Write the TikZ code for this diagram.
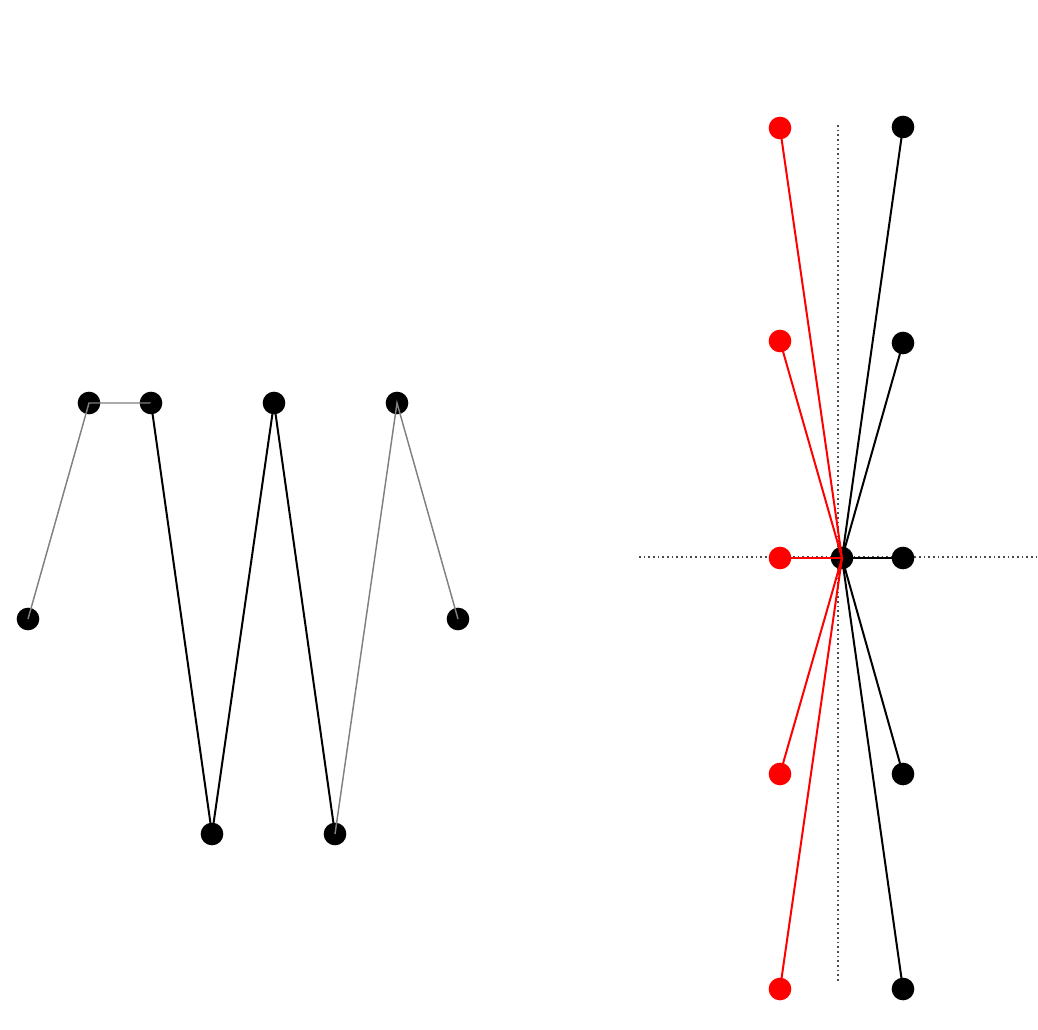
\documentclass[tikz,border=0pt]{standalone}
\begin{document}
\begin{tikzpicture}[x=0.75pt,y=-0.75pt,
  dot/.style={circle,fill=black,inner sep=0pt,minimum size=17pt},
  rdot/.style={circle,fill=red,inner sep=0pt,minimum size=17pt},
  blk/.style={black,line width=1.5pt},
  gry/.style={gray,line width=1.1pt},
  redline/.style={draw=red,line width=1.5pt},
  axis/.style={black!70,line width=0.9pt,dash pattern=on 1.2pt off 2.3pt}]
\useasboundingbox (0,0) rectangle (1038,1029);
% left graph
\node[dot] (a1) at (28,619) {};
\node[dot] (a2) at (89,403) {};
\node[dot] (a3) at (151,403) {};
\node[dot] (a4) at (212,834) {};
\node[dot] (a5) at (274,403) {};
\node[dot] (a6) at (335,834) {};
\node[dot] (a7) at (397,403) {};
\node[dot] (a8) at (458,619) {};
\draw[gry] (a1.center) -- (a2.center) -- (a3.center);
\draw[blk] (a3.center) -- (a4.center) -- (a5.center) -- (a6.center);
\draw[gry] (a6.center) -- (a7.center) -- (a8.center);
% right figure
\coordinate (h0) at (639,557);
\coordinate (h1) at (1038,557);
\coordinate (v0) at (838,125);
\coordinate (v1) at (838,983);
\draw[axis] (h0) -- (h1);
\draw[axis] (v0) -- (v1);
\node[dot] (c) at (842,558) {};
\node[rdot] (r1) at (780,128) {};
\node[rdot] (r2) at (780,341) {};
\node[rdot] (r3) at (780,558) {};
\node[rdot] (r4) at (780,774) {};
\node[rdot] (r5) at (780,989) {};
\node[dot] (b1) at (903,127) {};
\node[dot] (b2) at (903,343) {};
\node[dot] (b3) at (903,558) {};
\node[dot] (b4) at (903,774) {};
\node[dot] (b5) at (903,989) {};
\foreach \i in {1,...,5} {
  \draw[blk] (c.center) -- (b\i.center);
}
\foreach \i in {1,...,5} {
  \draw[redline] (c.center) -- (r\i.center);
}
\end{tikzpicture}
\end{document}
